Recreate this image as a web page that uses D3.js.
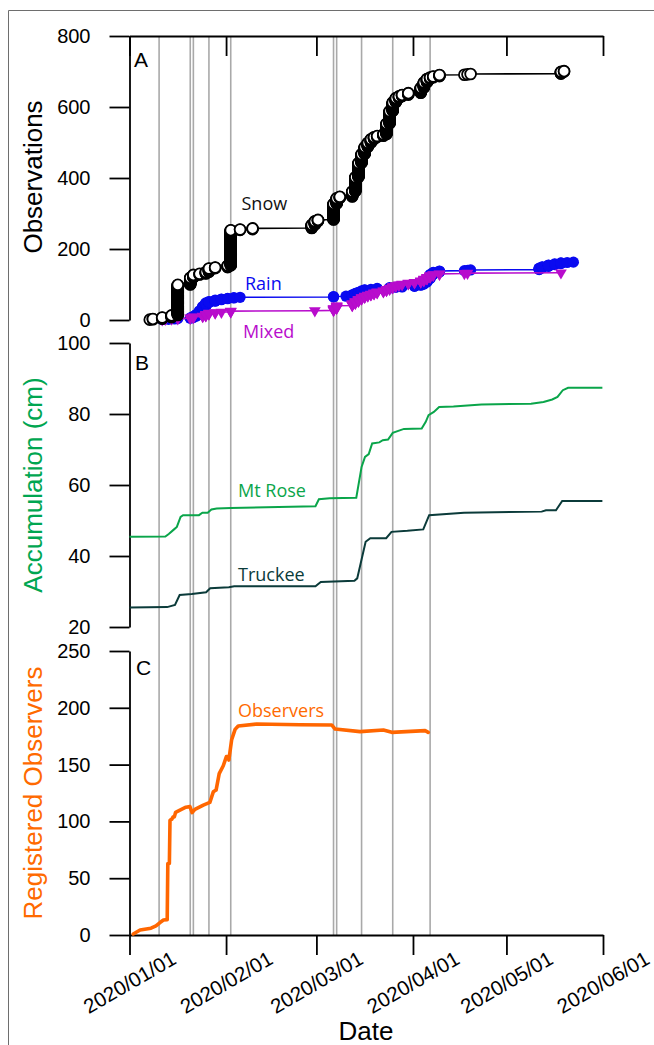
<!DOCTYPE html>
<html><head><meta charset="utf-8">
<script src="https://cdn.jsdelivr.net/npm/d3@7"></script>
<style>body{margin:0;background:#fff} svg{display:block}</style>
</head><body><svg id="c" width="654" height="1045"></svg>
<script>
// ---------- DATA ----------
// Panel A: daily number of observations per type (MM-DD, 2020)
const snowDays = ["01-07","01-08","01-11","01-14","01-16","01-20","01-21","01-23","01-25","01-26","01-28","02-01","02-02","02-05","02-09","02-28","02-29","03-01","03-06","03-07","03-08","03-12","03-13","03-14","03-15","03-16","03-17","03-18","03-19","03-20","03-22","03-23","03-24","03-25","03-26","03-27","03-28","03-30","04-03","04-04","04-05","04-06","04-07","04-09","04-17","04-18","04-19","05-18","05-19"];
const snowCounts = [1,2,4,6,86,20,8,3,5,10,3,5,100,2,3,10,10,4,45,16,4,15,40,40,25,20,12,10,6,3,5,30,35,25,12,5,4,5,15,15,10,4,3,4,1,1,1,6,2];

const rainDays = ["01-11","01-13","01-15","01-16","01-20","01-21","01-22","01-23","01-24","01-25","01-26","01-28","01-30","02-01","02-03","02-05","03-06","03-10","03-12","03-13","03-14","03-15","03-16","03-18","03-20","03-24","03-26","03-28","04-01","04-03","04-04","04-05","04-06","04-07","04-09","04-17","04-18","04-19","05-11","05-12","05-14","05-16","05-18","05-20","05-22"];
const rainCounts = [1,1,1,1,2,4,6,10,12,10,4,4,3,2,2,1,2,1,4,4,3,4,3,1,3,2,1,2,3,3,6,10,12,6,4,1,1,1,5,4,5,3,3,1,1];

const mixedDays = ["01-11","01-12","01-14","01-16","01-20","01-21","01-24","01-25","01-26","01-28","01-30","02-02","02-29","03-06","03-07","03-12","03-13","03-14","03-15","03-16","03-17","03-18","03-19","03-20","03-22","03-23","03-24","03-25","03-26","03-27","03-28","03-30","04-01","04-03","04-04","04-05","04-06","04-07","04-09","04-17","04-18","05-18"];
const mixedCounts = [1,1,1,1,2,3,2,5,3,2,1,3,1,6,8,6,6,6,5,4,3,3,3,3,3,4,4,4,3,2,2,3,2,4,5,5,5,3,2,1,1,1];

// Panel B: snow accumulation (cm); day = days since 2020-01-01
const mtRoseDay = [0,11.5,12.6,14.3,15.2,16.4,17.2,22.3,23.4,25.1,26.3,28.0,32.5,59.7,60.8,64.3,72.8,74.5,75.6,76.8,77.9,80.2,81.3,83.0,84.5,88.1,93.8,95.1,96.0,97.7,99.4,104.0,113.0,128.9,132.9,135.7,137.4,139.1,140.8,151.8];
const mtRoseCm  = [45.4,45.5,46.2,47.5,48.2,51.0,51.5,51.5,52.2,52.2,53.1,53.4,53.5,54.0,56.0,56.3,56.4,65.1,67.9,68.7,71.7,72.0,72.6,72.8,74.7,75.8,75.9,77.8,79.7,80.6,82.0,82.1,82.7,82.9,83.4,84.1,84.8,86.7,87.4,87.4];
const truckeeDay = [0,12.1,14.6,16.1,20.0,24.6,25.9,31.9,33.6,59.7,61.4,72.2,73.1,75.8,77.3,82.4,84.1,89.2,94.3,96.2,107.4,132.3,133.7,136.9,138.9,151.8];
const truckeeCm  = [25.5,25.6,26.2,29.0,29.3,29.8,30.9,31.2,31.5,31.5,32.7,33.0,33.7,44.0,45.0,45.0,46.8,47.1,47.5,51.5,52.2,52.5,52.9,52.9,55.5,55.5];

// Panel C: registered observers
const obsDay = [1.2,3.4,6.9,8.5,9.8,10.9,12.1,12.3,12.8,13.0,13.6,14.0,14.4,14.8,16.2,18.1,19.4,20.1,21.0,23.7,25.8,26.9,27.8,28.8,30.1,31.1,31.7,31.9,32.8,33.9,34.9,40.8,54.7,64.9,66.0,74.0,81.5,84.2,94.9,95.9];
const obsCount = [0.9,4.4,6.0,8.0,11.0,13.2,13.5,63,63,101,102,104,104,108,110,112.5,113,107.7,110.6,114.4,116.8,126,127.6,142,149,157,157,154,172,181,184,185.7,185.1,184.9,181.3,179,180.5,178.4,179.9,178.4];

// Storm event dates (grey vertical lines)
const eventDays = ["01-10","01-20","01-21","01-26","02-02","03-06","03-07","03-15","03-25","04-06"];

// Tick values
const ticksA = [0,200,400,600,800];
const ticksB = [20,40,60,80,100];
const ticksC = [0,50,100,150,200,250];

// ---------- CHART ----------
const svg = d3.select("#c");
const t0 = Date.UTC(2020,0,1), dayMs = 864e5;
const noon = s => new Date(Date.UTC(2020, +s.slice(0,2)-1, +s.slice(3,5), 12));
const fromDay = d => new Date(t0 + d*dayMs);

const x = d3.scaleUtc().domain([new Date(t0), new Date(Date.UTC(2020,5,1))]).range([129.5,603]);
const yA = d3.scaleLinear().domain([0,800]).range([320,36]);
const yB = d3.scaleLinear().domain([20,100]).range([627,343]);
const yC = d3.scaleLinear().domain([0,250]).range([935,651]);

const AX = "Liberation Sans, Arial, Helvetica, sans-serif";
const LB = "Open Sans, Noto Sans, sans-serif";

// frame
svg.append("path").attr("d","M8.5,1045V10.5H654").attr("fill","none").attr("stroke","#6e6e6e").attr("stroke-width",1);

// event lines
svg.append("g").selectAll("line").data(eventDays).join("line")
  .attr("x1",d=>x(noon(d))).attr("x2",d=>x(noon(d)))
  .attr("y1",36).attr("y2",935)
  .attr("stroke","#a9a9a9").attr("stroke-width",1.6);

function styleAxis(g){
  g.selectAll("path,line").attr("stroke","#000").attr("stroke-width",1.8);
  g.selectAll("text").attr("font-family",AX).attr("font-size",20).attr("fill","#000");
}
// y axes
svg.append("g").attr("transform","translate(129.5,0)")
  .call(d3.axisLeft(yA).tickValues(ticksA).tickSize(20).tickSizeOuter(0).tickPadding(19)).call(styleAxis);
svg.append("g").attr("transform","translate(129.5,0)")
  .call(d3.axisLeft(yB).tickValues(ticksB).tickSize(20).tickSizeOuter(0).tickPadding(19)).call(styleAxis);
svg.append("g").attr("transform","translate(129.5,0)")
  .call(d3.axisLeft(yC).tickValues(ticksC).tickSize(20).tickSizeOuter(0).tickPadding(19)).call(styleAxis);
// top axis of panel A (inward ticks)
svg.append("g").attr("transform","translate(0,36)")
  .call(d3.axisBottom(x).ticks(d3.utcMonth.every(1)).tickSize(20).tickSizeOuter(0).tickFormat("")).call(styleAxis);
// bottom axis
const monthTicks = x.ticks(d3.utcMonth.every(1));
svg.append("g").attr("transform","translate(0,935)")
  .call(d3.axisBottom(x).tickValues(monthTicks).tickSize(20).tickSizeOuter(0).tickFormat("")).call(styleAxis);
const fmt = d3.utcFormat("%Y/%m/%d");
svg.append("g").selectAll("text").data(monthTicks).join("text")
  .attr("transform",d=>`translate(${x(d)},982) rotate(-30)`)
  .attr("text-anchor","middle").attr("dominant-baseline","central")
  .attr("font-family",AX).attr("font-size",20.5).attr("fill","#000").text(fmt);

// axis titles
function vTitle(txt, cy, col){
  svg.append("text").attr("transform",`translate(42,${cy}) rotate(-90)`).attr("text-anchor","middle")
    .attr("font-family",AX).attr("font-size",26).attr("fill",col).text(txt);
}
vTitle("Observations",177,"#000");
vTitle("Accumulation (cm)",485,"#00a651");
vTitle("Registered Observers",793,"#ff6a00");
svg.append("text").attr("x",366).attr("y",1040).attr("text-anchor","middle")
  .attr("font-family",AX).attr("font-size",26).attr("fill","#000").text("Date");

// panel letters
[["A",134,67],["B",135,370],["C",136,675]].forEach(([t,px,py])=>{
  svg.append("text").attr("x",px).attr("y",py).attr("font-family",AX).attr("font-size",21).attr("fill","#000").text(t);
});

// ---- Panel A series ----
function expand(days, counts){
  const pts=[]; let c=0;
  days.forEach((d,i)=>{ const t=noon(d); for(let k=0;k<counts[i];k++){ c++; pts.push({t,v:c}); } });
  return pts;
}
const rainPts = expand(rainDays, rainCounts);
const mixedPts = expand(mixedDays, mixedCounts);
const snowPts = expand(snowDays, snowCounts);
const lineA = d3.line().x(d=>x(d.t)).y(d=>yA(d.v));

const RAIN="#0a0af0", MIX="#b80ccc";
svg.append("path").datum(rainPts).attr("d",lineA).attr("fill","none").attr("stroke",RAIN).attr("stroke-width",1.6);
svg.append("g").selectAll("circle").data(rainPts).join("circle")
  .attr("cx",d=>x(d.t)).attr("cy",d=>yA(d.v)).attr("r",5.6).attr("fill",RAIN);

svg.append("path").datum(mixedPts).attr("d",lineA).attr("fill","none").attr("stroke",MIX).attr("stroke-width",1.6);
const tri = d3.symbol().type(d3.symbolTriangle).size(60);
svg.append("g").selectAll("path").data(mixedPts).join("path")
  .attr("transform",d=>`translate(${x(d.t)},${yA(d.v)}) rotate(180)`).attr("d",tri).attr("fill",MIX);

svg.append("path").datum(snowPts).attr("d",lineA).attr("fill","none").attr("stroke","#000").attr("stroke-width",1.6);
svg.append("g").selectAll("circle").data(snowPts).join("circle")
  .attr("cx",d=>x(d.t)).attr("cy",d=>yA(d.v)).attr("r",5.4)
  .attr("fill","#fff").attr("stroke","#000").attr("stroke-width",1.8);

// ---- Panel B ----
const lineB = d3.line().x(d=>x(fromDay(d[0]))).y(d=>yB(d[1]));
svg.append("path").datum(d3.zip(mtRoseDay, mtRoseCm)).attr("d",lineB)
  .attr("fill","none").attr("stroke","#0aa54a").attr("stroke-width",2);
svg.append("path").datum(d3.zip(truckeeDay, truckeeCm)).attr("d",lineB)
  .attr("fill","none").attr("stroke","#0b3b3a").attr("stroke-width",2);

// ---- Panel C ----
const lineC = d3.line().x(d=>x(fromDay(d[0]))).y(d=>yC(d[1]));
svg.append("path").datum(d3.zip(obsDay, obsCount)).attr("d",lineC)
  .attr("fill","none").attr("stroke","#ff6600").attr("stroke-width",3.6).attr("stroke-linejoin","round").attr("stroke-linecap","round");

// ---- series labels ----
[["Snow",241.5,210,"#111"],["Rain",245,290,RAIN],["Mixed",243,338,MIX],
 ["Mt Rose",238,497,"#0aa54a"],["Truckee",238,580.5,"#0b3b3a"],["Observers",238,717,"#ff6a00"]]
 .forEach(([t,px,py,c])=>{
  svg.append("text").attr("x",px).attr("y",py).attr("font-family",LB).attr("font-size",18).attr("fill",c).text(t);
 });
</script></body></html>
